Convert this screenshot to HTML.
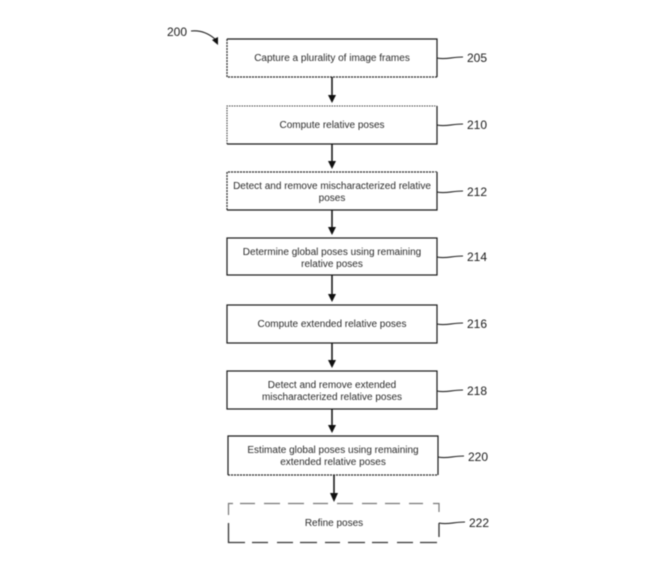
<!DOCTYPE html>
<html>
<head>
<meta charset="utf-8">
<style>
html,body{margin:0;padding:0;background:#fff}
svg{display:block;filter:blur(0.5px)}
text{font-family:"Liberation Sans",sans-serif;font-size:10px;fill:#2a2a2a;text-anchor:middle}
.n{font-size:12px;text-anchor:start;fill:#1a1a1a}
.b{fill:#fff;stroke:#1a1a1a;stroke-width:1.2}
.d{fill:none;stroke:#222;stroke-width:1.2;stroke-dasharray:2 1}
.t{fill:none;stroke:#444;stroke-width:1.1;stroke-dasharray:1.5 1}
.l{fill:none;stroke:#222;stroke-width:1.1}
.a{stroke:#111;stroke-width:1.5;fill:none}
</style>
</head>
<body>
<svg width="660" height="571" viewBox="0 0 660 571" xmlns="http://www.w3.org/2000/svg">
<text class="n" x="167" y="36">200</text>
<path class="l" d="M191 31 C200 30 208 33 215 39"/>
<path d="M212 40 L218 37 L218 45 Z" fill="#111"/>

<rect x="227" y="39" width="210" height="38" fill="#fff"/>
<path class="b" fill="none" d="M227 39H437V77"/>
<path class="d" d="M227 39V77H437"/>

<rect x="227" y="106" width="210" height="38" fill="#fff"/>
<path class="t" d="M227 144V106H437"/>
<path class="b" fill="none" stroke-width="1" d="M437 106V144H227"/>

<rect x="227" y="172" width="210" height="38" fill="#fff"/>
<path class="d" d="M227 210V172H437"/>
<path class="b" fill="none" d="M437 172V210H227"/>

<rect class="b" x="227" y="238" width="210" height="37"/>
<rect class="b" x="227" y="305" width="210" height="38" stroke-width="1"/>
<rect class="b" x="227" y="371" width="210" height="38"/>

<rect x="228" y="436" width="210" height="39" fill="#fff"/>
<path class="b" fill="none" d="M228 475V436H438V475"/>
<path class="d" d="M228 475H438"/>

<path d="M228.500 515V503.500H233M240 503.500H255M264 503.500H280M288 503.500H304M313 503.500H328M337 503.500H353M362 503.500H377M385 503.500H400M409 503.500H423M433 503.500H439V512" fill="none" stroke="#777" stroke-width="1.2"/>
<path d="M228.500 523V542.500H245M252 542.500H268M277 542.500H293M300 542.500H317M325 542.500H340M348 542.500H365M372 542.500H388M397 542.500H413M420 542.500H437M439 523V537" fill="none" stroke="#333" stroke-width="1.3"/>

<path class="a" d="M332 77V97M332 144V163M332 210V229M332 275V296M332 343V362M332 409V427M334 475V495"/>
<g fill="#111">
<path d="M328 95H336L332 103Z"/>
<path d="M328 161H336L332 169Z"/>
<path d="M328 227H336L332 235Z"/>
<path d="M328 294H336L332 302Z"/>
<path d="M328 360H336L332 368Z"/>
<path d="M328 425H336L332 433Z"/>
<path d="M330 493H338L334 502Z"/>
</g>

<text x="332" y="61">Capture a plurality of image frames</text>
<text x="332" y="128">Compute relative poses</text>
<text x="332" y="189">Detect and remove mischaracterized relative</text>
<text x="332" y="201">poses</text>
<text x="332" y="255">Determine global poses using remaining</text>
<text x="332" y="267">relative poses</text>
<text x="332" y="327">Compute extended relative poses</text>
<text x="332" y="388">Detect and remove extended</text>
<text x="332" y="400">mischaracterized relative poses</text>
<text x="333" y="453">Estimate global poses using remaining</text>
<text x="333" y="465">extended relative poses</text>
<text x="334" y="526">Refine poses</text>

<path class="l" d="M437 58C445 60 452 57 463 57"/>
<path class="l" d="M437 125C445 127 452 124 463 124"/>
<path class="l" d="M437 192C445 194 452 191 463 191"/>
<path class="l" d="M437 257C445 259 452 256 463 256"/>
<path class="l" d="M437 324C445 326 452 323 463 323"/>
<path class="l" d="M437 391C445 393 452 390 463 390"/>
<path class="l" d="M438 457C446 459 453 456 464 456"/>
<path class="l" d="M439 523C447 525 454 522 465 522"/>

<text class="n" x="467" y="62">205</text>
<text class="n" x="467" y="129">210</text>
<text class="n" x="467" y="196">212</text>
<text class="n" x="467" y="261">214</text>
<text class="n" x="467" y="328">216</text>
<text class="n" x="467" y="395">218</text>
<text class="n" x="468" y="461">220</text>
<text class="n" x="469" y="527">222</text>
</svg>
</body>
</html>
